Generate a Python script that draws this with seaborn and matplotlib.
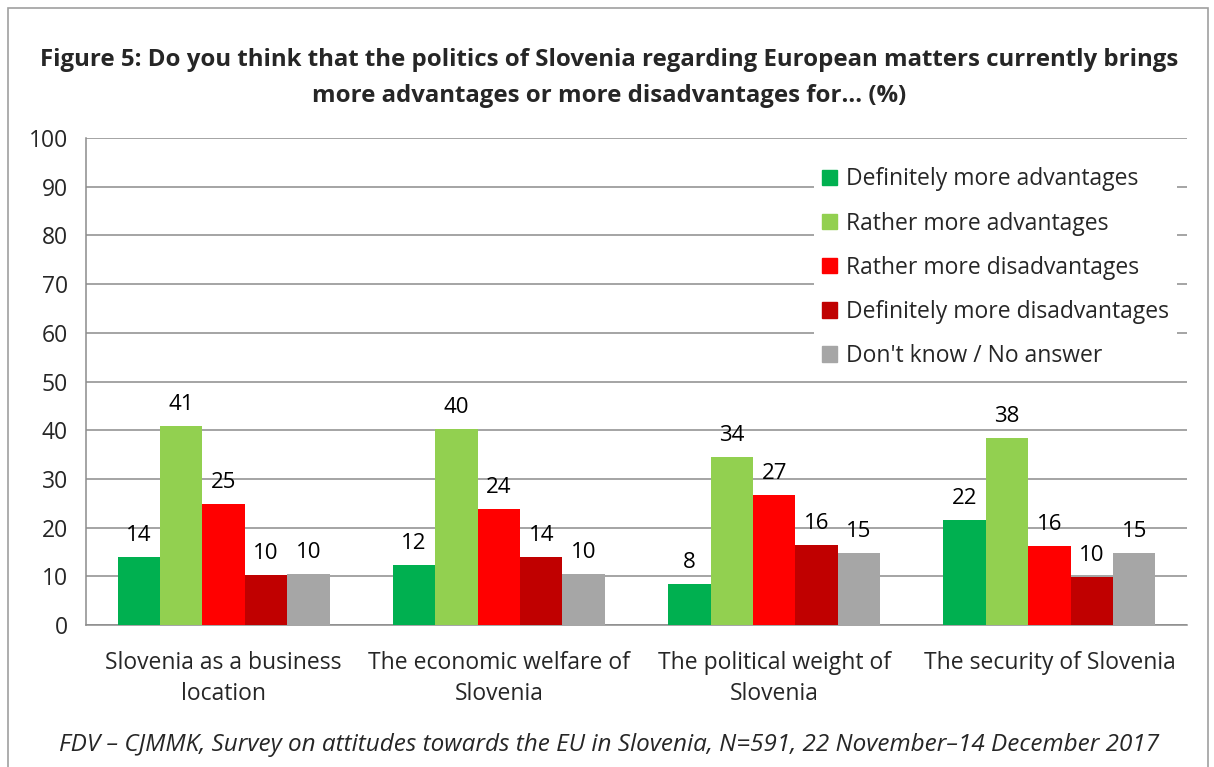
import matplotlib
matplotlib.use("Agg")
import matplotlib.pyplot as plt
import matplotlib.patches as mpatches
import numpy as np
import pandas as pd
import seaborn as sns

categories = [
    "Slovenia as a business\nlocation",
    "The economic welfare of\nSlovenia",
    "The political weight of\nSlovenia",
    "The security of Slovenia",
]
series = [
    "Definitely more advantages",
    "Rather more advantages",
    "Rather more disadvantages",
    "Definitely more disadvantages",
    "Don't know / No answer",
]
definitely_adv = [13.9, 12.3, 8.4, 21.6]
rather_adv = [40.9, 40.2, 34.4, 38.4]
rather_disadv = [24.8, 23.8, 26.6, 16.2]
definitely_disadv = [10.3, 14.0, 16.4, 9.9]
dont_know = [10.4, 10.4, 14.8, 14.8]
colors = ["#00B050", "#92D050", "#FF0000", "#C00000", "#A6A6A6"]

title = ("Figure 5: Do you think that the politics of Slovenia regarding European matters currently brings\n"
         "more advantages or more disadvantages for... (%)")
footnote = "FDV \u2013 CJMMK, Survey on attitudes towards the EU in Slovenia, N=591, 22 November\u201314 December 2017"

values = [definitely_adv, rather_adv, rather_disadv, definitely_disadv, dont_know]
rows = []
for s, vals in zip(series, values):
    for c, v in zip(categories, vals):
        rows.append({"category": c, "series": s, "value": v})
df = pd.DataFrame(rows)

sns.set_style("white")
plt.rcParams["font.family"] = ["Open Sans", "DejaVu Sans"]

fig = plt.figure(figsize=(12.14, 7.67), dpi=100)
ax = fig.add_axes([0.0708, 0.1851, 0.907, 0.6350])

sns.barplot(data=df, x="category", y="value", hue="series", hue_order=series,
            order=categories, palette=colors, width=0.77, gap=0, saturation=1,
            linewidth=0, errorbar=None, ax=ax, zorder=3)

for cont in ax.containers:
    labels = [f"{int(b.get_height() + 0.5):d}" for b in cont]
    ax.bar_label(cont, labels=labels, padding=8, fontsize=16, color="black")

ax.set_ylim(0, 100)
ax.set_xlim(-0.5, 3.5)
ax.set_yticks(np.arange(0, 101, 10))
ax.set_xlabel("")
ax.set_ylabel("")
ax.yaxis.grid(True, color="#8C8C8C", linewidth=1.1, zorder=0)
ax.set_axisbelow(True)
for side in ["top", "right"]:
    ax.spines[side].set_visible(False)
for side in ["left", "bottom"]:
    ax.spines[side].set_color("#8C8C8C")
    ax.spines[side].set_linewidth(1.1)
ax.tick_params(axis="y", length=7, color="#8C8C8C", width=1.1, labelsize=16.5, pad=6)
ax.tick_params(axis="x", which="major", length=0, labelsize=16.5, pad=19)
for t in ax.get_xticklabels():
    t.set_linespacing(1.35)
ax.set_xticks(np.arange(-0.5, 4, 1), minor=True)
ax.tick_params(axis="x", which="minor", length=9, color="#8C8C8C", width=1.1)

handles = [mpatches.Patch(color=c, label=s) for c, s in zip(colors, series)]
leg = ax.legend(handles=handles, loc="upper left", bbox_to_anchor=(0.661, 0.956),
                frameon=True, fontsize=16.5, labelspacing=0.88, handlelength=0.65,
                handleheight=0.65, handletextpad=0.4, borderpad=0.35, borderaxespad=0)
leg.get_frame().set_facecolor("white")
leg.get_frame().set_edgecolor("none")
leg.get_frame().set_alpha(1)
leg.set_zorder(5)

fig.text(0.502, 0.898, title, ha="center", va="center", fontsize=17.3,
         fontweight="bold", linespacing=1.65)
fig.text(0.502, 0.029, footnote, ha="center", va="center", fontsize=17.5, style="italic")

border = mpatches.Rectangle((0.007, -0.05), 0.988, 1.04, transform=fig.transFigure,
                            fill=False, edgecolor="#A0A0A0", linewidth=1.2)
fig.patches.append(border)

fig.savefig("out.png", dpi=100)
